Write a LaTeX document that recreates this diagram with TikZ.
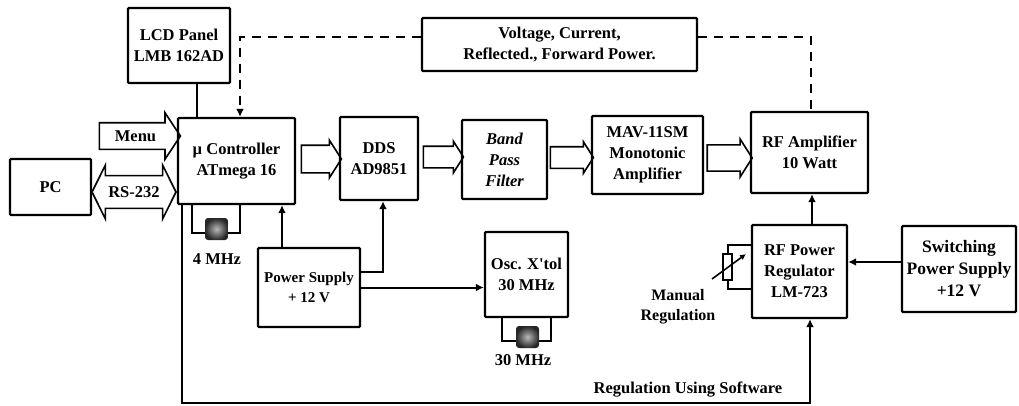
\documentclass[tikz,border=0pt]{standalone}
\usepackage{fontspec}
\setmainfont{Liberation Serif}
\usetikzlibrary{shapes.arrows,arrows.meta}

\tikzset{
  txt/.style={font=\fontsize{16.5}{21}\selectfont\bfseries, align=center},
  blk/.style={txt, draw, line width=2.4pt, rounded corners=1pt, inner sep=2pt},
  fat/.style={txt, single arrow, draw, line width=1.6pt, inner xsep=0pt, inner ysep=12pt, single arrow head extend=5pt, single arrow tip angle=115, minimum width=34pt},
  conn/.style={line width=2pt, -{Latex[length=8pt,width=8pt]}},
  dsh/.style={line width=2pt, dash pattern=on 9pt off 7pt},
  wire/.style={line width=2pt},
  xtal/.style={rounded corners=3pt, minimum width=23pt, minimum height=22pt, inner sep=0pt, inner color=gray!55, outer color=gray!30!black}
}

\begin{document}
\begin{tikzpicture}[x=1pt, y=-1pt]
\useasboundingbox (0,0) rectangle (1019,405);
% blocks
\node[blk, minimum width=102pt, minimum height=75pt] (lcd) at (179,45.5) {LCD Panel\\LMB 162AD};
\node[blk, minimum width=275pt, minimum height=53pt] (volt) at (559.5,44.5) {Voltage, Current,\\Reflected., Forward Power.};
\node[blk, minimum width=117pt, minimum height=86pt] (ctrl) at (236.5,161) {µ Controller\\ATmega 16};
\node[blk, minimum width=81pt, minimum height=56pt] (pc) at (50.5,187) {PC};
\node[blk, minimum width=78pt, minimum height=83pt] (dds) at (379,158.5) {DDS\\AD9851};
\node[blk, minimum width=85pt, minimum height=79pt, font=\fontsize{16.5}{21}\selectfont\bfseries\itshape] (bpf) at (504.5,159.5) {Band\\Pass\\Filter};
\node[blk, minimum width=111pt, minimum height=78pt] (mav) at (647.5,155) {MAV-11SM\\Monotonic\\Amplifier};
\node[blk, minimum width=117pt, minimum height=81pt] (rfamp) at (809.5,152.5) {RF Amplifier\\10 Watt};
\node[blk, minimum width=95pt, minimum height=93pt] (reg) at (799.5,271.5) {RF Power\\Regulator\\LM-723};
\node[blk, minimum width=114pt, minimum height=86pt, font=\fontsize{17.5}{22}\selectfont\bfseries] (sw) at (959,269) {Switching\\Power Supply\\+12 V};
\node[blk, minimum width=102pt, minimum height=79pt, font=\fontsize{15}{20}\selectfont\bfseries] (ps) at (309,287.5) {Power Supply\\+ 12 V};
\node[blk, minimum width=83pt, minimum height=85pt] (osc) at (526.5,274.5) {Osc. X\textquotesingle tol\\30 MHz};

% hollow bus arrows
\node[fat, minimum height=81pt, inner ysep=7pt, minimum width=45pt, single arrow head extend=10pt, single arrow tip angle=113] (menu) at (135.5,136) {Menu};
\node[txt, double arrow, draw, line width=1.6pt, inner xsep=0pt, inner ysep=10pt, minimum height=84pt, minimum width=52pt, double arrow head extend=10.5pt, double arrow tip angle=127] (rs) at (134,192) {RS-232};
\node[fat, minimum height=40pt, inner ysep=13pt, minimum width=36pt] (bus1) at (317,159) {};
\node[fat, minimum height=40pt, inner ysep=10pt, minimum width=31pt] (bus2) at (440,157) {};
\node[fat, minimum height=43pt, inner ysep=10pt, minimum width=31pt] (bus3) at (568.5,157.5) {};
\node[fat, minimum height=45pt, inner ysep=10.5pt, minimum width=38pt] (bus4) at (725.5,158) {};

% links
\draw[wire] ([xshift=18pt]lcd.south) -- ([xshift=18pt]lcd.south |- ctrl.north);
\draw[dsh, -{Latex[length=8pt,width=8pt]}] ([yshift=8pt]volt.west) -| ([xshift=3.5pt]ctrl.north);
\draw[dsh] ([yshift=8pt]volt.east) -| ([xshift=1.5pt]rfamp.north);
\draw[conn] ([xshift=-27pt]ps.north) -- ([xshift=-27pt]ps.north |- ctrl.south);
\draw[conn] ([yshift=16pt]ps.east) -| ([xshift=4pt]dds.south);
\draw[conn] (ps.east) -- (ps.east -| osc.west);
\draw[conn] ([xshift=12.5pt]reg.north) -- ([xshift=12.5pt]reg.north |- rfamp.south);
\draw[conn] ([yshift=7pt]sw.west) -- ([yshift=7pt]sw.west -| reg.east);
\coordinate (softin) at (810,403);
\draw[conn] ([xshift=5pt]ctrl.south west) |- (softin) -- (softin |- reg.south);
\node[txt] (softlbl) at (688,390) {Regulation Using Software};

% crystals
\draw[wire] ([xshift=15pt]ctrl.south west) -- ++(0,28) -| ([xshift=63pt]ctrl.south west);
\node[xtal] (q4) at (216.5,229) {};
\node[txt] (q4lbl) at (217,259) {4 MHz};
\draw[wire] ([xshift=18pt]osc.south west) -- ++(0,23) -| ([xshift=67pt]osc.south west);
\node[xtal] (q30) at (527.5,337) {};
\node[txt] (q30lbl) at (523,360) {30 MHz};

% manual pot
\draw[wire] (752,245) -| (727.5,289) -- (752,289);
\draw[wire, fill=white] (723,254) rectangle (732,280);
\draw[line width=1.6pt, -{Latex[length=6pt,width=6pt]}] (712,279) -- (746,254);
\node[txt, font=\fontsize{16}{20}\selectfont\bfseries] (manlbl) at (678,307) {Manual\\Regulation};
\end{tikzpicture}
\end{document}
